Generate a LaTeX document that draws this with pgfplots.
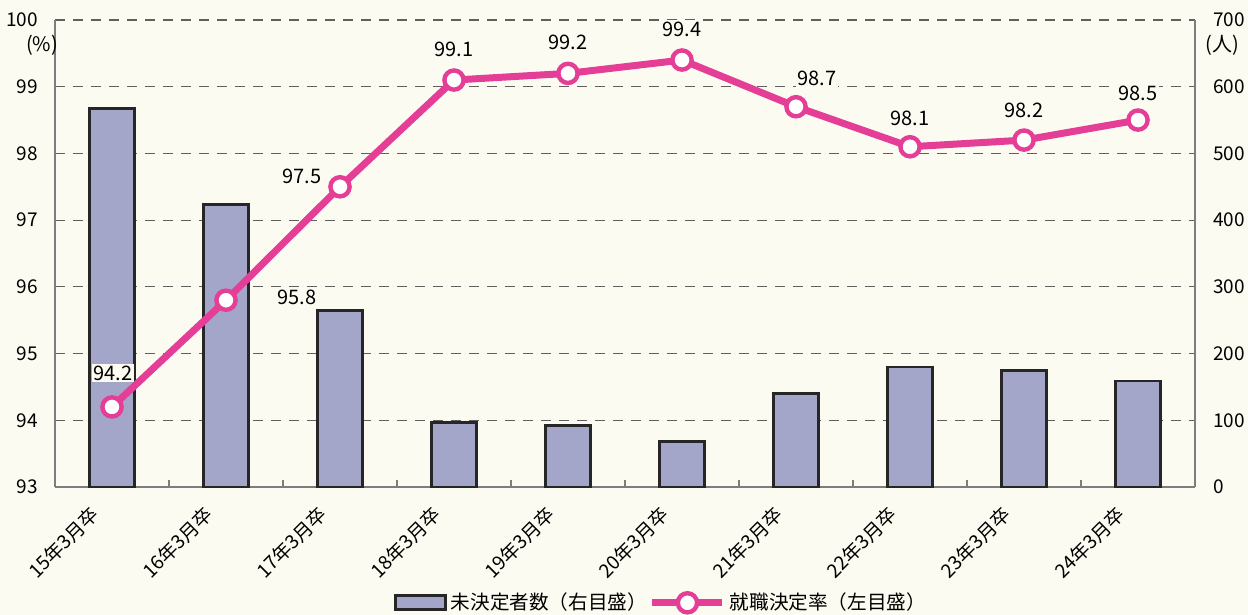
\documentclass[border=0pt]{standalone}
\usepackage{pgfplots}
\pgfplotsset{compat=1.18}
\usepackage{pgfplotstable}
\usepackage{fontspec}
\setmainfont{Noto Sans CJK JP}
\definecolor{cream}{RGB}{251,251,241}
\definecolor{barfill}{RGB}{164,166,201}
\definecolor{linecol}{RGB}{228,62,150}
\definecolor{gridcol}{RGB}{95,95,95}
\definecolor{axiscol}{RGB}{125,125,125}
\pgfplotsset{
  barleg/.style={legend image code/.code={\draw[##1] (0pt,-3.5pt) rectangle (25pt,3.5pt);}},
  lineleg/.style={legend image code/.code={\draw[mark repeat=2,mark phase=2,##1] plot coordinates {(0pt,0pt) (17.5pt,0pt) (35pt,0pt)};}},
}

\pgfplotstableread{
x y
0 567
1 423
2 264
3 97
4 92
5 68
6 140
7 180
8 175
9 159
}\bars

\pgfplotstableread{
x y dx dy
0 94.2 0.5 17
1 95.8 35.5 1.5
2 97.5 -19 5
3 99.1 0 15.5
4 99.2 0 15.5
5 99.4 0 15.5
6 98.7 10.5 14
7 98.1 0 14
8 98.2 0 15
9 98.5 0 13.5
}\rate

\begin{document}
\begin{tikzpicture}[font=\fontsize{10}{12}\selectfont]
\useasboundingbox (0,0) rectangle (624pt,307.5pt);
\fill[cream] (0,0) rectangle (624pt,307.5pt);
\begin{axis}[
  at={(27.5pt,64pt)}, anchor=south west,
  scale only axis, width=570pt, height=233.5pt,
  xmin=-0.5, xmax=9.5, ymin=0, ymax=700,
  axis y line*=right, axis x line*=bottom,
  axis line style={axiscol, line width=0.8pt, -},
  xtick={0,...,9},
  xticklabels={15年3月卒,16年3月卒,17年3月卒,18年3月卒,19年3月卒,20年3月卒,21年3月卒,22年3月卒,23年3月卒,24年3月卒},
  minor x tick num=1,
  major x tick style={draw=none},
  minor tick length=3.5pt,
  minor x tick style={axiscol, line width=0.8pt},
  xticklabel style={xshift=-11.5pt, yshift=-8.5pt, rotate=45, anchor=north east, inner sep=0pt, font=\fontsize{9.6}{11}\selectfont},
  ytick={0,100,...,700},
  ymajorgrids,
  grid style={gridcol, dash pattern=on 5pt off 4pt, line width=0.6pt},
  major y tick style={draw=none},
  yticklabel style={xshift=5.5pt, font=\fontsize{9.5}{11}\selectfont},
  /pgf/number format/assume math mode=true,
  clip=false,
]
\addplot[ybar, bar width=0.4, fill=barfill, draw=black!85, line width=1.4pt] table[x=x,y=y]{\bars};
\node at (rel axis cs:1,1) [xshift=13.5pt, yshift=-12.5pt, font=\fontsize{10}{12}\selectfont] {(人)};
\end{axis}
\begin{axis}[
  at={(27.5pt,64pt)}, anchor=south west,
  scale only axis, width=570pt, height=233.5pt,
  xmin=-0.5, xmax=9.5, ymin=93, ymax=100,
  axis y line*=left, hide x axis,
  axis line style={axiscol, line width=0.8pt, -},
  ytick={93,...,100},
  major y tick style={draw=none},
  yticklabel style={xshift=-5pt, font=\fontsize{9.5}{11}\selectfont},
  /pgf/number format/assume math mode=true,
  clip=false,
  legend columns=2,
  legend style={at={(axis description cs:0.5325,-0.248)}, anchor=center, draw=none, fill=none,
    font=\fontsize{9.8}{12}\selectfont, /tikz/every even column/.style={column sep=-1pt},
    inner sep=0pt},
]
\addlegendimage{barleg, fill=barfill, draw=black!85, line width=1.4pt}
\addlegendentry{未決定者数（右目盛）}
\addplot[linecol, line width=3.5pt, mark=*, mark size=4.8pt,
  mark options={fill=white, draw=linecol, line width=2.2pt},
  lineleg,
  visualization depends on={\thisrow{dx}\as\dx},
  visualization depends on={\thisrow{dy}\as\dy},
  nodes near coords={\pgfmathprintnumber[fixed, fixed zerofill, precision=1]{\pgfplotspointmeta}},
  nodes near coords style={anchor=center, xshift=\dx pt, yshift=\dy pt, fill=cream, inner sep=1pt, text=black, font=\fontsize{10}{12}\selectfont},
] table[x=x,y=y]{\rate};
\addlegendentry{就職決定率（左目盛）}
\node at (rel axis cs:0,1) [xshift=-6.5pt, yshift=-12.5pt, font=\fontsize{10}{12}\selectfont] {(\%)};
\end{axis}
\end{tikzpicture}
\end{document}
